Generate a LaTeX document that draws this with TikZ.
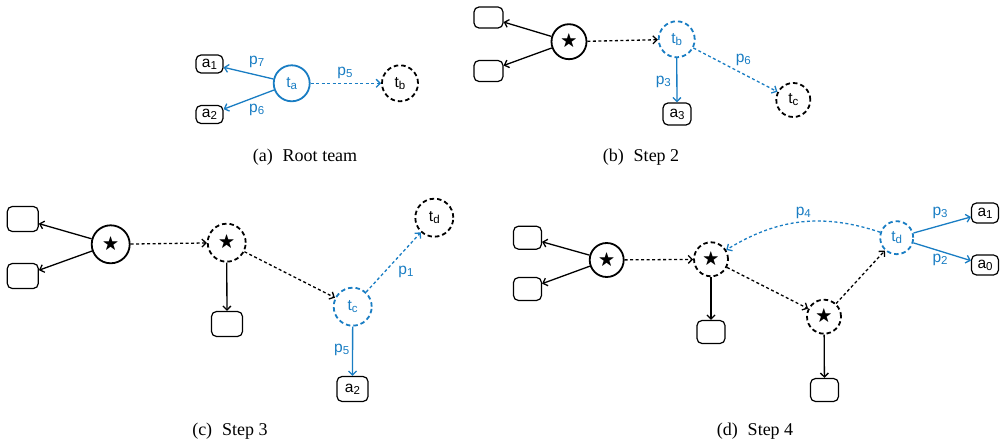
\documentclass[tikz,border=0pt]{standalone}
\usepackage{fontspec}
\usepackage{amssymb}
\setmainfont{Liberation Serif}
\newfontfamily\hv{Liberation Sans}
\usetikzlibrary{arrows.meta}
\definecolor{tblue}{RGB}{25,125,195}
\newcommand\sbx[1]{\raisebox{-0.25ex}{\fontsize{11.5}{11.5}\selectfont #1}}
\newcommand\strsym{\fontsize{17}{17}\selectfont$\bigstar$}
\tikzset{
  lbl/.style={font=\hv\fontsize{15.5}{15.5}\selectfont, inner sep=0pt},
  circ/.style={circle, draw, line width=1.8pt, inner sep=0pt, font=\hv\fontsize{15.5}{15.5}\selectfont},
  dcirc/.style={circ, dash pattern=on 4.5pt off 3pt},
  rbox/.style={draw, rounded corners=5pt, line width=1.2pt, inner sep=0pt, font=\hv\fontsize{15.5}{15.5}\selectfont},
  sarr/.style={line width=1.3pt, -{Straight Barb[length=4pt,width=8pt]}},
  darr/.style={sarr, dash pattern=on 3pt off 2.5pt},
  captext/.style={font=\fontsize{18}{18}\selectfont, inner sep=0pt, anchor=base}
}
\newcommand\capgap{\hspace{10pt}}
\begin{document}
\begin{tikzpicture}[x=1pt,y=-1pt]
\useasboundingbox (0,0) rectangle (1001,446);
% ---------- (a)
\node[circ, tblue, minimum size=36pt] (aTa) at (291.7,83.3) {t\sbx{a}};
\node[dcirc, minimum size=36pt] (aTb) at (400,83.3) {t\sbx{b}};
\node[rbox, minimum width=27pt, minimum height=18pt] (aA1) at (209.5,64) {a\sbx{1}};
\node[rbox, minimum width=27pt, minimum height=18pt] (aA2) at (209.5,114.5) {a\sbx{2}};
\draw[sarr, tblue] (aTa) -- (aA1);
\draw[sarr, tblue] (aTa) -- (aA2);
\draw[darr, tblue] (aTa) -- (aTb);
\node[lbl, tblue] (aP7) at (256.7,61.7) {p\sbx{7}};
\node[lbl, tblue] (aP6) at (256.7,110) {p\sbx{6}};
\node[lbl, tblue] (aP5) at (345,73) {p\sbx{5}};
\node[captext] (capA) at (305,162) {(a)\capgap Root team};
% ---------- (b)
\node[circ, minimum size=35pt] (bS) at (569,41.7) {\strsym};
\node[rbox, minimum width=29pt, minimum height=21pt] (bB1) at (488.5,17.5) {};
\node[rbox, minimum width=29pt, minimum height=21pt] (bB2) at (488.5,71) {};
\node[dcirc, tblue, minimum size=36pt] (bTb) at (676.7,39.3) {t\sbx{b}};
\node[rbox, minimum width=28pt, minimum height=22pt] (bA3) at (677,114) {a\sbx{3}};
\node[dcirc, minimum size=34pt] (bTc) at (793.3,100) {t\sbx{c}};
\draw[sarr] (bS) -- (bB1);
\draw[sarr] (bS) -- (bB2);
\draw[darr] (bS) -- (bTb);
\draw[sarr, tblue] (bTb) -- (bA3);
\draw[darr, tblue] (bTb) -- (bTc);
\node[lbl, tblue] (bP3) at (663.3,81.7) {p\sbx{3}};
\node[lbl, tblue] (bP6) at (743.3,60) {p\sbx{6}};
\node[captext] (capB) at (641,162) {(b)\capgap Step 2};
% ---------- (c)
\node[rbox, minimum width=31pt, minimum height=25pt] (cB1) at (22.8,219) {};
\node[rbox, minimum width=31pt, minimum height=25pt] (cB2) at (22.8,276) {};
\node[circ, minimum size=38pt] (cS) at (110.7,244.3) {\strsym};
\node[dcirc, minimum size=38pt] (cD) at (226.7,242.7) {\strsym};
\node[rbox, minimum width=31pt, minimum height=25pt] (cB3) at (227,324) {};
\node[dcirc, tblue, minimum size=38pt] (cTc) at (352.7,306.7) {t\sbx{c}};
\node[dcirc, minimum size=38pt] (cTd) at (434.3,217.7) {t\sbx{d}};
\node[rbox, minimum width=31pt, minimum height=25pt] (cA2) at (352.5,389) {a\sbx{2}};
\draw[sarr] (cS) -- (cB1);
\draw[sarr] (cS) -- (cB2);
\draw[darr] (cS) -- (cD);
\draw[sarr] (cD) -- (cB3);
\draw[darr] (cD) -- (cTc);
\draw[darr, tblue] (cTc) -- (cTd);
\draw[sarr, tblue] (cTc) -- (cA2);
\node[lbl, tblue] (cP1) at (406,271.7) {p\sbx{1}};
\node[lbl, tblue] (cP5) at (341.7,350) {p\sbx{5}};
\node[captext] (capC) at (230,435) {(c)\capgap Step 3};
% ---------- (d)
\node[rbox, minimum width=28pt, minimum height=23pt] (dB1) at (527.5,237.7) {};
\node[rbox, minimum width=28pt, minimum height=23pt] (dB2) at (527.5,289) {};
\node[circ, minimum size=34pt] (dS) at (606.7,260) {\strsym};
\node[dcirc, minimum size=34pt] (dD1) at (711,259.3) {\strsym};
\node[rbox, minimum width=28pt, minimum height=23pt] (dB3) at (711,332) {};
\node[dcirc, minimum size=34pt] (dD2) at (824,316.7) {\strsym};
\node[rbox, minimum width=28pt, minimum height=23pt] (dB4) at (824.5,390) {};
\node[dcirc, tblue, minimum size=33pt] (dTd) at (896.7,237.7) {t\sbx{d}};
\node[rbox, minimum width=27pt, minimum height=20pt] (dA1) at (985,213) {a\sbx{1}};
\node[rbox, minimum width=27pt, minimum height=20pt] (dA0) at (985,265) {a\sbx{0}};
\draw[sarr] (dS) -- (dB1);
\draw[sarr] (dS) -- (dB2);
\draw[darr] (dS) -- (dD1);
\draw[sarr] (dD1) -- (dB3);
\draw[darr] (dD1) -- (dD2);
\draw[sarr] (dD2) -- (dB4);
\draw[darr] (dD2) -- (dTd);
\draw[darr, tblue] (dTd) to[bend right=25] (dD1);
\draw[sarr, tblue] (dTd) -- (dA1);
\draw[sarr, tblue] (dTd) -- (dA0);
\node[lbl, tblue] (dP4) at (803.3,213.3) {p\sbx{4}};
\node[lbl, tblue] (dP3) at (940,213.3) {p\sbx{3}};
\node[lbl, tblue] (dP2) at (940,260) {p\sbx{2}};
\node[captext] (capD) at (755,435) {(d)\capgap Step 4};
\end{tikzpicture}
\end{document}
